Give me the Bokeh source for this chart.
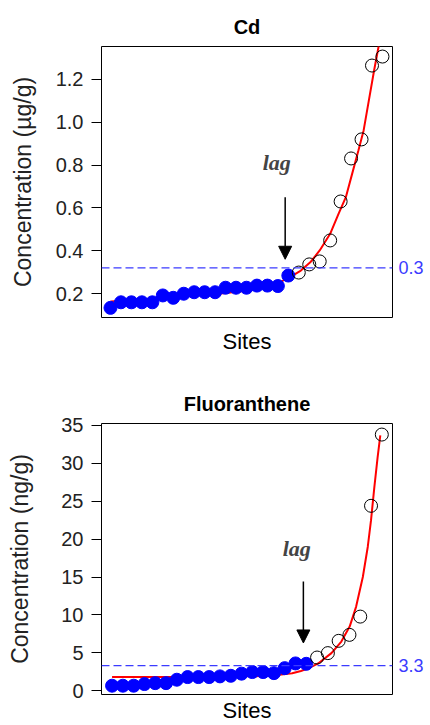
from bokeh.plotting import figure
from bokeh.models import FixedTicker, LinearAxis, Arrow, NormalHead, Label, Span, Range1d
from bokeh.layouts import column
from bokeh.embed import file_html
from bokeh.resources import INLINE

# ---------------- data ----------------
# Cd
cd_low_sites = [1, 2, 3, 4, 5, 6, 7, 8, 9, 10, 11, 12, 13, 14, 15, 16, 17, 18]
cd_low_vals = [0.133, 0.159, 0.159, 0.159, 0.159, 0.191, 0.180, 0.199, 0.206, 0.206,
               0.206, 0.227, 0.227, 0.227, 0.237, 0.237, 0.235, 0.284]
cd_high_sites = [19, 20, 21, 22, 23, 24, 25, 26, 27]
cd_high_vals = [0.298, 0.336, 0.350, 0.448, 0.630, 0.831, 0.920, 1.265, 1.307]
cd_fit_sites = [1.0, 3.9, 6.5, 9.6, 11.8, 14.4, 15.8, 16.8, 17.4, 18.2, 19.2, 20.1, 21.0,
                22.0, 22.8, 23.5, 24.1, 24.7, 25.2, 25.7, 26.2, 26.65]
cd_fit_vals = [0.163, 0.172, 0.182, 0.193, 0.201, 0.215, 0.228, 0.245, 0.258, 0.278, 0.307,
               0.346, 0.401, 0.479, 0.572, 0.650, 0.759, 0.868, 0.962, 1.102, 1.242, 1.359]
cd_threshold = 0.32
cd_threshold_label = "0.3"
cd_yticks = [0.2, 0.4, 0.6, 0.8, 1.0, 1.2]
cd_lag = {"x": 17.7, "y_start": 0.65, "y_end": 0.36, "text_x": 16.9, "text_y": 0.81}

# Fluoranthene
fl_low_sites = [1, 2, 3, 4, 5, 6, 7, 8, 9, 10, 11, 12, 13, 14, 15, 16, 17, 18, 19]
fl_low_vals = [0.66, 0.66, 0.66, 0.88, 1.0, 1.0, 1.45, 1.8, 1.8, 1.8, 1.89, 1.97, 2.25,
               2.46, 2.46, 2.32, 2.98, 3.6, 3.55]
fl_high_sites = [20, 21, 22, 23, 24, 25, 26]
fl_high_vals = [4.38, 4.96, 6.58, 7.37, 9.78, 24.4, 33.8]
fl_fit_sites = [1.0, 5.0, 9.0, 12.0, 15.0, 16.5, 17.7, 18.5, 19.2, 20.1, 21.33, 22.25,
                23.02, 23.62, 24.24, 24.7, 25.0, 25.31, 25.61, 25.86]
fl_fit_vals = [1.8, 1.8, 1.82, 1.86, 1.95, 2.1, 2.3, 2.6, 2.95, 3.6, 4.96, 6.49,
               8.46, 11.1, 15.0, 19.0, 22.5, 26.9, 30.8, 33.7]
fl_threshold = 3.3
fl_threshold_label = "3.3"
fl_yticks = [0, 5, 10, 15, 20, 25, 30, 35]
fl_lag = {"x": 18.73, "y_start": 14.4, "y_end": 6.3, "text_x": 18.12, "text_y": 18.8}

SANS = "Liberation Sans"
SERIF = "Liberation Serif"


def panel(title, ylabel, low_s, low_v, high_s, high_v, fit_s, fit_v, thr, thr_label,
          yticks, lag, xr, yr, height, top, bottom, right, label_standoff, sites_standoff,
          tick_fmt):
    p = figure(width=428, height=height, output_backend="svg", toolbar_location=None,
               x_range=Range1d(*xr), y_range=Range1d(*yr), tools="")
    p.min_border_left = 101
    p.min_border_right = right
    p.min_border_top = top
    p.min_border_bottom = bottom
    p.outline_line_color = "black"
    p.outline_line_width = 1
    p.outline_line_alpha = 1
    p.xgrid.visible = False
    p.ygrid.visible = False
    p.background_fill_color = "white"

    p.title.text = title
    p.title.align = "center"
    p.title.text_font = SANS
    p.title.text_font_size = "20px"
    p.title.text_font_style = "bold"
    p.title.text_color = "black"
    p.title.standoff = 17

    # x axis: only the label
    xa = p.xaxis[0]
    xa.ticker = FixedTicker(ticks=[])
    xa.axis_line_color = None
    xa.major_tick_line_color = None
    xa.minor_tick_line_color = None
    xa.major_tick_out = 0
    xa.major_tick_in = 0
    xa.major_label_standoff = 0
    xa.axis_label = "Sites"
    xa.axis_label_text_font = SANS
    xa.axis_label_text_font_size = "22px"
    xa.axis_label_text_font_style = "normal"
    xa.axis_label_text_color = "black"
    xa.axis_label_standoff = sites_standoff

    ya = p.yaxis[0]
    ya.ticker = FixedTicker(ticks=yticks)
    ya.major_label_overrides = {t: tick_fmt(t) for t in yticks}
    ya.axis_line_color = None
    ya.minor_tick_line_color = None
    ya.major_tick_out = 10
    ya.major_tick_in = 0
    ya.major_tick_line_color = "black"
    ya.major_label_standoff = 8
    ya.major_label_text_font = SANS
    ya.major_label_text_font_size = "20px"
    ya.major_label_text_color = "#222222"
    ya.axis_label = ylabel
    ya.axis_label_text_font = SANS
    ya.axis_label_text_font_size = "23px"
    ya.axis_label_text_font_style = "normal"
    ya.axis_label_text_color = "#222222"
    ya.axis_label_standoff = label_standoff

    # right-hand threshold label
    ra = LinearAxis(ticker=FixedTicker(ticks=[thr]),
                    major_label_overrides={thr: thr_label})
    ra.axis_line_color = None
    ra.major_tick_line_color = None
    ra.minor_tick_line_color = None
    ra.major_tick_out = 0
    ra.major_tick_in = 0
    ra.major_label_standoff = 6
    ra.major_label_text_color = "#3b3bff"
    ra.major_label_text_font = SANS
    ra.major_label_text_font_size = "18px"
    p.add_layout(ra, "right")

    p.add_layout(Span(location=thr, dimension="width", line_color="#3b3bff",
                      line_dash="8 4", line_width=1.2))

    p.line(fit_s, fit_v, line_color="red", line_width=2)
    p.scatter(low_s, low_v, marker="circle", size=13, fill_color="blue",
              line_color="blue")
    p.scatter(high_s, high_v, marker="circle", size=13, fill_color=None,
              line_color="black", line_width=1)

    p.add_layout(Arrow(end=NormalHead(size=13, fill_color="black", line_color="black"),
                       x_start=lag["x"], y_start=lag["y_start"],
                       x_end=lag["x"], y_end=lag["y_end"],
                       line_color="black", line_width=1.5))
    p.add_layout(Label(x=lag["text_x"], y=lag["text_y"], text="lag", text_font=SERIF,
                       text_font_style="bold italic", text_font_size="22px",
                       text_align="center", text_baseline="middle"))
    return p


p1 = panel("Cd", "Concentration (µg/g)", cd_low_sites, cd_low_vals, cd_high_sites,
           cd_high_vals, cd_fit_sites, cd_fit_vals, cd_threshold, cd_threshold_label,
           cd_yticks, cd_lag, (0.14, 27.96), (0.088, 1.354), 366, 46, 49, 36, 17, 11,
           lambda t: f"{t:.1f}")
p2 = panel("Fluoranthene", "Concentration (ng/g)", fl_low_sites, fl_low_vals,
           fl_high_sites, fl_high_vals, fl_fit_sites, fl_fit_vals, fl_threshold,
           fl_threshold_label, fl_yticks, fl_lag, (0.02, 26.99), (-0.5, 35.26), 359, 57,
           30, 33, 25, 3, lambda t: f"{t:d}")

layout = column(p1, p2)
open("out.html", "w").write(file_html(layout, INLINE))
